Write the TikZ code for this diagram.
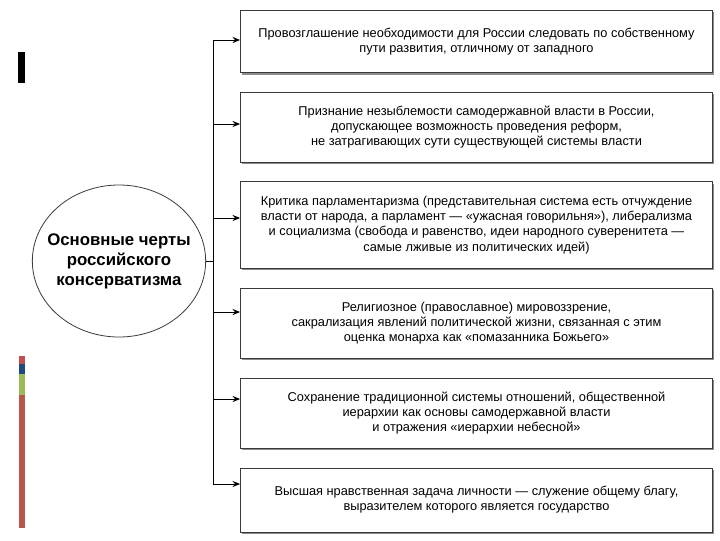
\documentclass[tikz,border=0pt]{standalone}
\usepackage{fontspec}
\setmainfont{Liberation Sans}
\usetikzlibrary{arrows.meta,positioning,calc,shapes.geometric,shadows}
\definecolor{BarRed}{HTML}{C0504D}
\definecolor{BarBlue}{HTML}{1F497D}
\definecolor{BarGreen}{HTML}{9BBB59}
\definecolor{BarBrown}{HTML}{B5584A}
\definecolor{EdgeGray}{HTML}{3A3A3A}

\begin{document}
\begin{tikzpicture}[x=0.75pt,y=-0.75pt,
  featbox/.style={draw=EdgeGray,line width=0.6pt,fill=white,
    drop shadow={shadow xshift=1pt,shadow yshift=-1.5pt,fill=black!45,opacity=1},
    minimum width=354pt,inner sep=2pt,align=center,
    font=\fontsize{9.6}{11.4}\selectfont},
  core/.style={ellipse,draw=EdgeGray,line width=0.6pt,minimum width=130pt,
    minimum height=114pt,inner xsep=-12pt,inner ysep=0pt,align=center,
    font=\fontsize{12.6}{15}\selectfont\bfseries},
  arr/.style={-{Stealth[length=2mm,width=1.6mm]},line width=0.75pt}
]
\useasboundingbox (0,0) rectangle (720,540);
% side bars
\fill[black] (18,52) rectangle (25,83);
\fill[BarRed] (19,356) rectangle (25,364);
\fill[BarBlue] (19,364) rectangle (25,374);
\fill[BarGreen] (19,374) rectangle (25,395);
\fill[BarBrown] (19,395) rectangle (25,528);
% centre
\node[core] (core) at (119,261) {Основные черты\\российского\\консерватизма};
\coordinate (trunk) at (213,261);
% features
\node[featbox,minimum height=47pt] (b1) at (476.5,41.5)
  {Провозглашение необходимости для России следовать по собственному\\пути развития, отличному от западного};
\node[featbox,minimum height=52.5pt] (b2) at (476.5,127)
  {Признание незыблемости самодержавной власти в России,\\допускающее возможность проведения реформ,\\не затрагивающих сути существующей системы власти};
\node[featbox,minimum height=65pt] (b3) at (476.5,225)
  {Критика парламентаризма (представительная система есть отчуждение\\власти от народа, а парламент — «ужасная говорильня»), либерализма\\и социализма (свобода и равенство, идеи народного суверенитета —\\самые лживые из политических идей)};
\node[featbox,minimum height=52.5pt] (b4) at (476.5,323)
  {Религиозное (православное) мировоззрение,\\сакрализация явлений политической жизни, связанная с этим\\оценка монарха как «помазанника Божьего»};
\node[featbox,minimum height=52.5pt] (b5) at (476.5,413)
  {Сохранение традиционной системы отношений, общественной\\иерархии как основы самодержавной власти\\и отражения «иерархии небесной»};
\node[featbox,minimum height=48pt] (b6) at (476.5,500)
  {Высшая нравственная задача личности — служение общему благу,\\выразителем которого является государство};
% connectors
\draw[line width=0.6pt] (core.east) -- (trunk);
\draw[line width=0.75pt] (trunk |- 0,40) -- (trunk |- 0,484);
\foreach \b/\y in {b1/40,b2/124,b3/218,b4/312,b5/399,b6/484}
  \draw[arr] (trunk |- 0,\y) -- (\b.west |- 0,\y);
\end{tikzpicture}
\end{document}
